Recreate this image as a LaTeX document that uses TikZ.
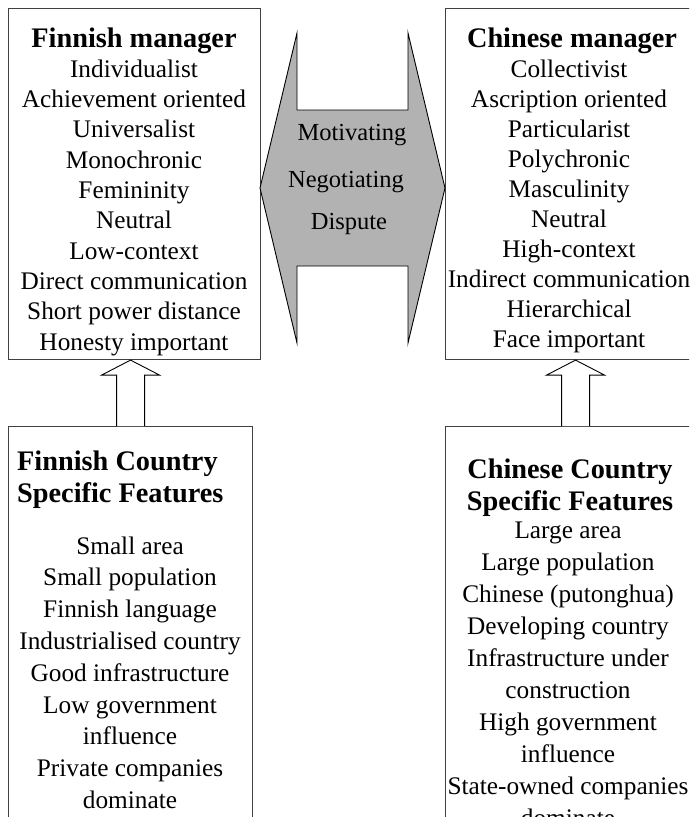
\documentclass[tikz,border=0pt]{standalone}
\usepackage{fontspec}
\setmainfont{Liberation Serif}
\usetikzlibrary{calc}
\begin{document}
\begin{tikzpicture}[x=1pt,y=-1pt,
  box/.style={draw=black!75, line width=1.1pt, rectangle, inner sep=0pt, anchor=north west},
  itemtext/.style={font=\fontsize{25.3}{32}\selectfont, inner sep=0pt, anchor=base},
  headtext/.style={font=\fontsize{28.3}{32}\selectfont\bfseries, inner sep=0pt, anchor=base},
  hextext/.style={font=\fontsize{24.5}{30}\selectfont, inner sep=0pt, anchor=base},
  blockarrow/.style={draw=black, line width=0.9pt, fill=white, line join=miter},
  exchange/.style={draw=black, line width=0.9pt, fill=black!30, line join=miter}
]
\useasboundingbox (0,0) rectangle (689,817);
\clip (0,0) rectangle (689,817);

% frames
\node[box, minimum width=252pt, minimum height=351pt] (fm) at (8,8) {};
\node[box, minimum width=254pt, minimum height=351pt] (cm) at (445,8) {};
\node[box, minimum width=244pt, minimum height=420pt] (fc) at (8,426) {};
\node[box, minimum width=254pt, minimum height=420pt] (cc) at (445,426) {};

% double-headed exchange shape between the managers
\draw[exchange] (297,33) -- (297,110) -- (408,110) -- (408,33) -- (445,188)
  -- (408,343) -- (408,266) -- (297,266) -- (297,343) -- (260,188) -- cycle;
\node[hextext] (ex-1) at (352,140) {Motivating};
\node[hextext] (ex-2) at (346,187) {Negotiating};
\node[hextext] (ex-3) at (349,229) {Dispute};

% Finnish manager
\node[headtext] (fm-title) at (134,47) {Finnish manager};
\foreach \t [count=\i] in {Individualist,Achievement oriented,Universalist,Monochronic,
  Femininity,Neutral,Low-context,Direct communication,Short power distance,Honesty important}
  \node[itemtext] (fm-\i) at (134,{47+30.3*\i}) {\t};

% Chinese manager
\node[headtext] (cm-title) at (572,47) {Chinese manager};
\foreach \t [count=\i] in {Collectivist,Ascription oriented,Particularist,Polychronic,
  Masculinity,Neutral,High-context,Indirect communication,Hierarchical,Face important}
  \node[itemtext] (cm-\i) at (569,{47+30*\i}) {\t};

% Finnish country features
\node[headtext, anchor=base west] (fc-title1) at (17,470) {Finnish Country};
\node[headtext, anchor=base west] (fc-title2) at (17,502) {Specific Features};
\foreach \t [count=\i] in {Small area,Small population,Finnish language,Industrialised country,
  Good infrastructure,Low government,influence,Private companies,dominate}
  \node[itemtext] (fc-\i) at (130,{554+31.8*(\i-1)}) {\t};

% Chinese country features
\node[headtext] (cc-title1) at (570,478) {Chinese Country};
\node[headtext] (cc-title2) at (570,510) {Specific Features};
\foreach \t [count=\i] in {Large area,Large population,Chinese (putonghua),Developing country,
  Infrastructure under,construction,High government,influence,State-owned companies,dominate}
  \node[itemtext] (cc-\i) at (568,{538+32*(\i-1)}) {\t};

% block arrows from country features up to the managers
\path (fc.north) coordinate (fa0) (fa0 |- fm.south) coordinate (fa1);
\path ([xshift=3pt]cc.north) coordinate (ca0) (ca0 |- cm.south) coordinate (ca1);
\foreach \a in {fa,ca}
  \draw[blockarrow] ($(\a0)+(-14,0)$) -- ($(\a1)+(-14,15)$) -- ($(\a1)+(-29,15)$) -- (\a1)
    -- ($(\a1)+(29,15)$) -- ($(\a1)+(14,15)$) -- ($(\a0)+(14,0)$);
\end{tikzpicture}
\end{document}
